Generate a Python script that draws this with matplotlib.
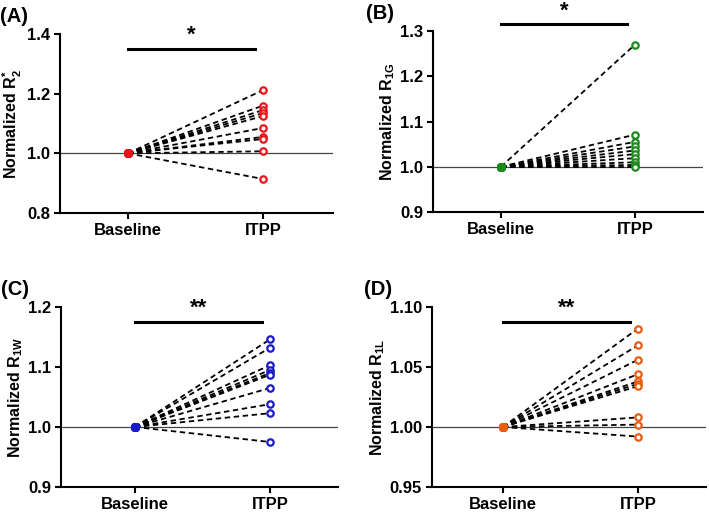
import matplotlib
matplotlib.use('Agg')
import matplotlib.pyplot as plt
import numpy as np

plt.rcParams['font.family'] = ['Liberation Sans', 'DejaVu Sans']
plt.rcParams['font.weight'] = 'bold'
plt.rcParams['mathtext.fontset'] = 'custom'
plt.rcParams['mathtext.rm'] = 'Liberation Sans:bold'
plt.rcParams['mathtext.bf'] = 'Liberation Sans:bold'
plt.rcParams['mathtext.it'] = 'Liberation Sans:bold'
plt.rcParams['mathtext.default'] = 'bf'

grupos = ['Baseline', 'ITPP']

# valores normalizados (baseline = 1.0 para todos)
r2_itpp = [1.212, 1.160, 1.145, 1.135, 1.125, 1.085, 1.055, 1.048, 1.007, 0.914]
r1g_itpp = [1.270, 1.071, 1.055, 1.045, 1.036, 1.028, 1.019, 1.010, 1.004, 1.000]
r1w_itpp = [1.146, 1.132, 1.103, 1.095, 1.090, 1.087, 1.065, 1.038, 1.023, 0.975]
r1l_itpp = [1.082, 1.068, 1.056, 1.044, 1.038, 1.036, 1.034, 1.008, 1.002, 0.992]

paineis = [
    dict(letra='(A)', dados=r2_itpp, cor='#e8141c', ylabel=r'Normalized R$_{2}^{\mathregular{*}}$',
         ylim=(0.8, 1.4), yticks=[0.8, 1.0, 1.2, 1.4], fmt='%.1f', barra=1.35, sig='*',
         pos=[0.0846, 0.5848, 0.3854, 0.3489], xlim=(-0.504, 1.52)),
    dict(letra='(B)', dados=r1g_itpp, cor='#1a8a1a', ylabel='Normalized R$_{1G}$',
         ylim=(0.9, 1.3), yticks=[0.9, 1.0, 1.1, 1.2, 1.3], fmt='%.1f', barra=1.315, sig='*',
         pos=[0.6107, 0.5867, 0.3808, 0.3529], xlim=(-0.507, 1.507)),
    dict(letra='(C)', dados=r1w_itpp, cor='#1a1ac8', ylabel='Normalized R$_{1W}$',
         ylim=(0.9, 1.2), yticks=[0.9, 1.0, 1.1, 1.2], fmt='%.1f', barra=1.175, sig='**',
         pos=[0.086, 0.0507, 0.3907, 0.3509], xlim=(-0.548, 1.504)),
    dict(letra='(D)', dados=r1l_itpp, cor='#ea5c12', ylabel='Normalized R$_{1L}$',
         ylim=(0.95, 1.10), yticks=[0.95, 1.00, 1.05, 1.10], fmt='%.2f', barra=1.0875, sig='**',
         pos=[0.609, 0.0507, 0.3868, 0.3509], xlim=(-0.526, 1.504)),
]

fig = plt.figure(figsize=(7.09, 5.13), dpi=100)

for p in paineis:
    ax = fig.add_axes(p['pos'])
    ax.axhline(1.0, color='#444444', lw=0.9, zorder=1)
    for v in p['dados']:
        ax.plot([0, 1], [1.0, v], ls=(0, (3, 2)), color='black', lw=1.3, zorder=2)
    ax.plot(np.zeros(len(p['dados'])), np.ones(len(p['dados'])), 'o', ms=5,
            mfc=p['cor'], mec=p['cor'], mew=1.5, zorder=3)
    ax.plot(np.ones(len(p['dados'])), p['dados'], 'o', ms=4.6,
            mfc='white', mec=p['cor'], mew=1.6, zorder=3)

    ax.set_xlim(*p['xlim'])
    ax.set_ylim(*p['ylim'])
    ax.set_xticks([0, 1])
    ax.set_xticklabels(grupos, fontsize=12, fontweight='bold')
    ax.set_yticks(p['yticks'])
    ax.set_yticklabels([p['fmt'] % t for t in p['yticks']], fontsize=12, fontweight='bold')
    ax.set_ylabel(p['ylabel'], fontsize=11.5, fontweight='bold', labelpad=2)
    for s in ['top', 'right']:
        ax.spines[s].set_visible(False)
    for s in ['left', 'bottom']:
        ax.spines[s].set_linewidth(1.5)
    ax.tick_params(width=1.5, length=4, pad=3)

    # barra de significancia
    ax.plot([0.0, 0.94], [p['barra'], p['barra']], color='black', lw=2.2, clip_on=False)
    ax.annotate(p['sig'], xy=(0.47, p['barra']), xytext=(0, 2), textcoords='offset points',
                ha='center', va='bottom', fontsize=16, fontweight='bold', annotation_clip=False)

    bb = p['pos']
    fig.text(bb[0] - 0.085 if p['letra'] in ('(A)', '(C)') else bb[0] - 0.095,
             bb[1] + bb[3] + 0.035, p['letra'], fontsize=14.5, fontweight='bold', va='center')

fig.savefig('out.png', dpi=100)
